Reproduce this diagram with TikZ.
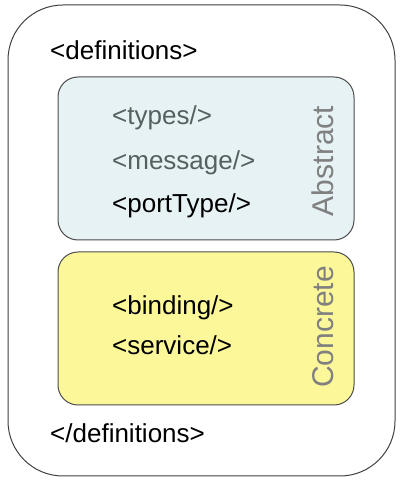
\documentclass[tikz,border=0pt]{standalone}
\usepackage{fontspec}
\setmainfont{Liberation Sans}
\usepackage{xcolor}
\usetikzlibrary{positioning}
\definecolor{abstractfill}{HTML}{E6F2F4}
\definecolor{concretefill}{HTML}{FCF89A}
\definecolor{softtext}{HTML}{556060}
\tikzset{
  outerbox/.style={rectangle,rounded corners=55pt,draw=black!75,line width=1pt,
    fill=white,minimum width=387pt,minimum height=471pt},
  groupbox/.style={rectangle,rounded corners=20pt,draw=black!70,line width=1pt,
    minimum width=296pt,minimum height=160pt},
  tagtext/.style={anchor=base west,inner sep=0pt,font=\fontsize{26}{30}\selectfont},
  sidelabel/.style={rotate=90,inner sep=0pt,text=black!50,
    font=\fontsize{30}{33}\selectfont}
}
\begin{document}
\begin{tikzpicture}[x=1pt,y=1pt]
  \useasboundingbox (0,0) rectangle (403,483);
  \node[outerbox] (defs) at (201.5,242.5) {};
  \node[groupbox, fill=abstractfill, minimum height=163pt] (abstract) at (206,324.5) {};
  \node[groupbox, fill=concretefill, minimum height=153pt] (concrete) at (206,154.5) {};

  \node[tagtext] (open) at (50,423) {<definitions>};
  \node[tagtext, text=softtext] (types) at (112,358) {<types/>};
  \node[tagtext, text=softtext] (message) at (112,313) {<message/>};
  \node[tagtext] (porttype) at (112,270) {<portType/>};
  \node[sidelabel] (abstractlbl) at (323,322) {Abstract};

  \node[tagtext] (binding) at (112,168) {<binding/>};
  \node[tagtext] (service) at (112,128) {<service/>};
  \node[sidelabel] (concretelbl) at (323,156) {Concrete};

  \node[tagtext] (close) at (50,41) {</definitions>};
\end{tikzpicture}
\end{document}
